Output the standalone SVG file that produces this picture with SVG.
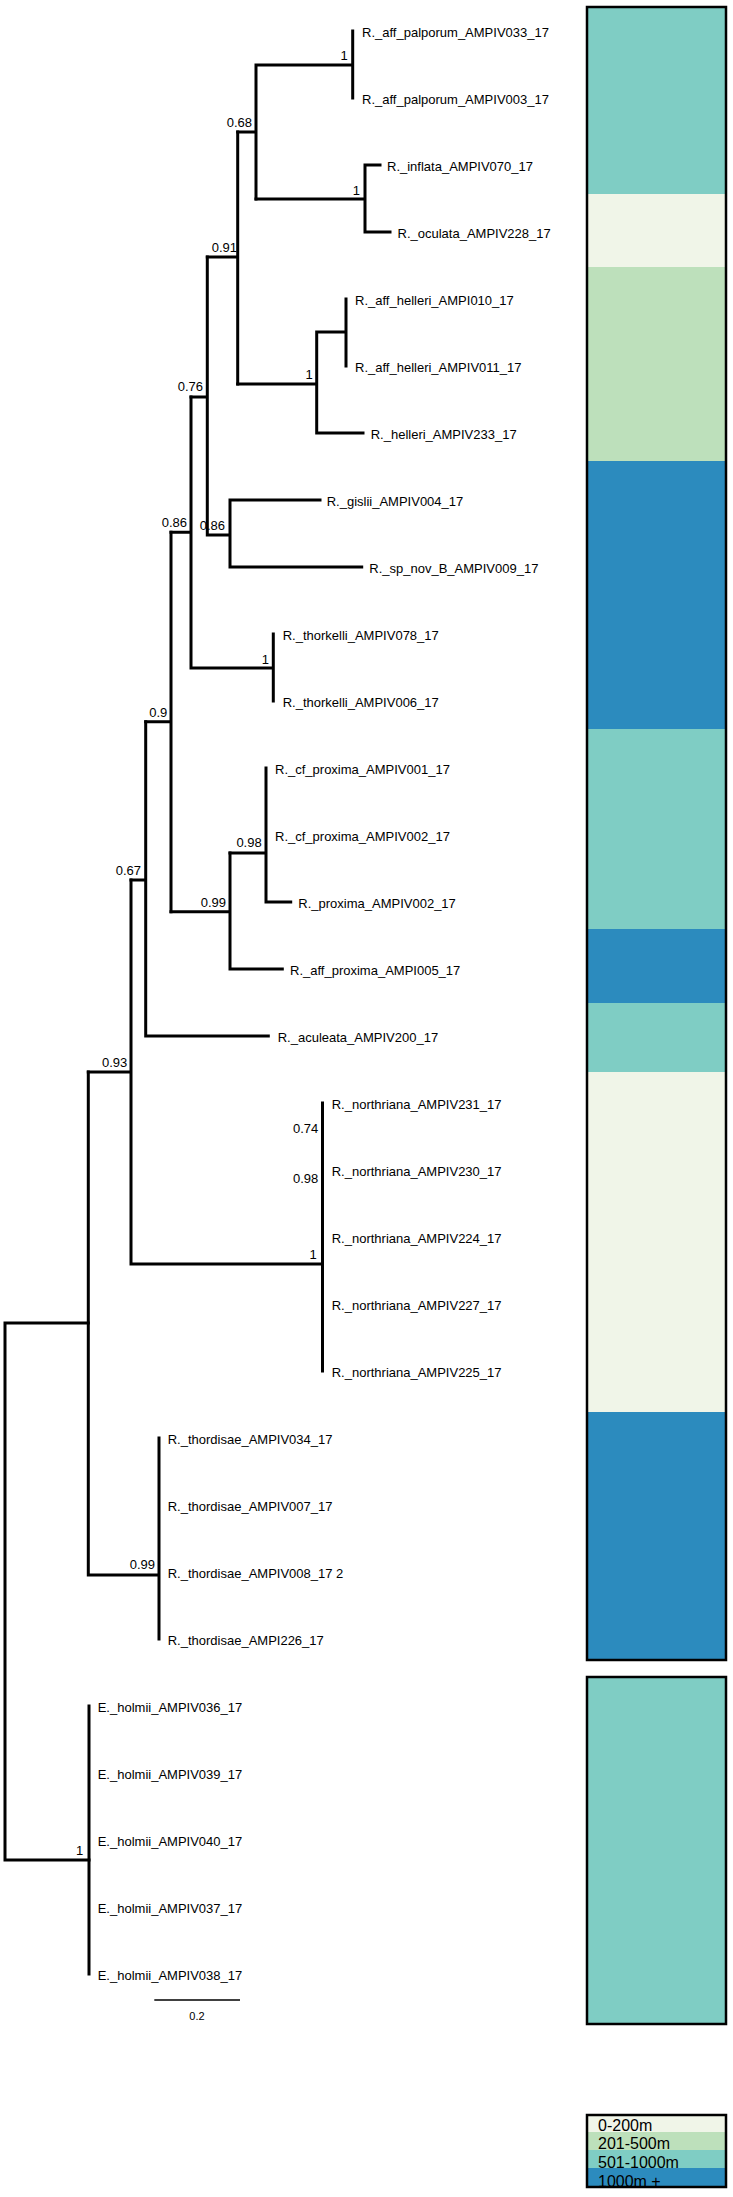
<svg xmlns="http://www.w3.org/2000/svg" width="733" height="2197" viewBox="0 0 733 2197">
<style>
.br{fill:none;stroke:#000;stroke-width:3;stroke-linecap:square}
.tx{font-family:"Liberation Sans",Arial,sans-serif;font-size:13px;fill:#000}
.sp{font-family:"Liberation Sans",Arial,sans-serif;font-size:13px;fill:#000;text-anchor:end}
.lg{font-family:"Liberation Sans",Arial,sans-serif;font-size:16px;fill:#000}
.c1{fill:#f0f5e8}.c2{fill:#bde0bb}.c3{fill:#7fcdc4}.c4{fill:#2c8bbe}
.box{fill:none;stroke:#000;stroke-width:2.5}
</style>
<rect width="733" height="2197" fill="#fff"/>
<g id="connectors">
<path class="br" d="M5 1323V1860M5 1323H88.3M5 1860H89"/>
<path class="br" d="M89 1706V1974"/>
<path class="br" d="M88.3 1072V1575M88.3 1575H159M159 1438V1639"/>
<path class="br" d="M88.3 1072H131M131 880V1264M131 1264H322.5M322.5 1103V1371"/>
<path class="br" d="M131 880H145.7M145.7 721.7V1036M145.7 1036H268.3"/>
<path class="br" d="M145.7 721.7H171M171 532.3V911.7"/>
<path class="br" d="M171 911.7H230M230 853V969M230 969H282.3"/>
<path class="br" d="M230 853H266M266 768V902M266 902H290.7"/>
<path class="br" d="M171 532.3H191M191 397V668M191 668H273.3M273.3 634V701"/>
<path class="br" d="M191 397H207.3M207.3 257V535M207.3 535H230M230 500V567M230 500H320M230 567H361.7"/>
<path class="br" d="M207.3 257H237.7M237.7 132V384"/>
<path class="br" d="M237.7 384H316.7M316.7 332V433M316.7 433H363M316.7 332H346M346 299V366"/>
<path class="br" d="M237.7 132H256M256 65V199M256 65H352.7M352.7 31V98"/>
<path class="br" d="M256 199H365M365 165V232M365 165H380M365 232H390"/>
</g>
<g id="tips">
<g id="t0"><text class="tx" x="362" y="36.5">R._aff_palporum_AMPIV033_17</text></g>
<g id="t1"><text class="tx" x="362" y="103.5">R._aff_palporum_AMPIV003_17</text></g>
<g id="t2"><text class="tx" x="387" y="170.5">R._inflata_AMPIV070_17</text></g>
<g id="t3"><text class="tx" x="397.5" y="237.5">R._oculata_AMPIV228_17</text></g>
<g id="t4"><text class="tx" x="355" y="304.5">R._aff_helleri_AMPI010_17</text></g>
<g id="t5"><text class="tx" x="355" y="371.5">R._aff_helleri_AMPIV011_17</text></g>
<g id="t6"><text class="tx" x="370.7" y="438.5">R._helleri_AMPIV233_17</text></g>
<g id="t7"><text class="tx" x="326.7" y="505.5">R._gislii_AMPIV004_17</text></g>
<g id="t8"><text class="tx" x="369.3" y="572.5">R._sp_nov_B_AMPIV009_17</text></g>
<g id="t9"><text class="tx" x="282.7" y="639.5">R._thorkelli_AMPIV078_17</text></g>
<g id="t10"><text class="tx" x="282.7" y="706.5">R._thorkelli_AMPIV006_17</text></g>
<g id="t11"><text class="tx" x="275" y="773.5">R._cf_proxima_AMPIV001_17</text></g>
<g id="t12"><text class="tx" x="275" y="840.5">R._cf_proxima_AMPIV002_17</text></g>
<g id="t13"><text class="tx" x="298.3" y="907.5">R._proxima_AMPIV002_17</text></g>
<g id="t14"><text class="tx" x="290" y="974.5">R._aff_proxima_AMPI005_17</text></g>
<g id="t15"><text class="tx" x="277.7" y="1041.5">R._aculeata_AMPIV200_17</text></g>
<g id="t16"><text class="tx" x="331.7" y="1108.5">R._northriana_AMPIV231_17</text></g>
<g id="t17"><text class="tx" x="331.7" y="1175.5">R._northriana_AMPIV230_17</text></g>
<g id="t18"><text class="tx" x="331.7" y="1242.5">R._northriana_AMPIV224_17</text></g>
<g id="t19"><text class="tx" x="331.7" y="1309.5">R._northriana_AMPIV227_17</text></g>
<g id="t20"><text class="tx" x="331.7" y="1376.5">R._northriana_AMPIV225_17</text></g>
<g id="t21"><text class="tx" x="167.7" y="1443.5">R._thordisae_AMPIV034_17</text></g>
<g id="t22"><text class="tx" x="167.7" y="1510.5">R._thordisae_AMPIV007_17</text></g>
<g id="t23"><text class="tx" x="167.7" y="1577.5">R._thordisae_AMPIV008_17 2</text></g>
<g id="t24"><text class="tx" x="167.7" y="1644.5">R._thordisae_AMPI226_17</text></g>
<g id="t25"><text class="tx" x="97.7" y="1711.5">E._holmii_AMPIV036_17</text></g>
<g id="t26"><text class="tx" x="97.7" y="1778.5">E._holmii_AMPIV039_17</text></g>
<g id="t27"><text class="tx" x="97.7" y="1845.5">E._holmii_AMPIV040_17</text></g>
<g id="t28"><text class="tx" x="97.7" y="1912.5">E._holmii_AMPIV037_17</text></g>
<g id="t29"><text class="tx" x="97.7" y="1979.5">E._holmii_AMPIV038_17</text></g>
</g>
<g id="supports">
<g id="n1"><text class="sp" x="347.7" y="60">1</text></g>
<g id="n2"><text class="sp" x="252" y="127">0.68</text></g>
<g id="n3"><text class="sp" x="360" y="195">1</text></g>
<g id="n4"><text class="sp" x="237" y="252">0.91</text></g>
<g id="n5"><text class="sp" x="312.7" y="378.7">1</text></g>
<g id="n6"><text class="sp" x="203" y="391">0.76</text></g>
<g id="n7"><text class="sp" x="187" y="527">0.86</text></g>
<g id="n8"><text class="sp" x="225" y="530">0.86</text></g>
<g id="n9"><text class="sp" x="269" y="664">1</text></g>
<g id="n10"><text class="sp" x="167.3" y="717.3">0.9</text></g>
<g id="n11"><text class="sp" x="261.7" y="847.3">0.98</text></g>
<g id="n12"><text class="sp" x="141" y="875">0.67</text></g>
<g id="n13"><text class="sp" x="226" y="906.7">0.99</text></g>
<g id="n14"><text class="sp" x="127.3" y="1067">0.93</text></g>
<g id="n15"><text class="sp" x="318.3" y="1133.3">0.74</text></g>
<g id="n16"><text class="sp" x="318.3" y="1183.3">0.98</text></g>
<g id="n17"><text class="sp" x="316.7" y="1259.3">1</text></g>
<g id="n18"><text class="sp" x="155" y="1569.3">0.99</text></g>
<g id="n19"><text class="sp" x="83.3" y="1855">1</text></g>
</g>
<g id="scalebar">
<line x1="154.3" y1="2000" x2="240" y2="2000" stroke="#000" stroke-width="1.3"/>
<text x="197" y="2020" text-anchor="middle" font-family="Liberation Sans, Arial, sans-serif" font-size="11">0.2</text>
</g>
<g id="depthbar">
<rect class="c3" x="587" y="7" width="139" height="187"/>
<rect class="c1" x="587" y="194" width="139" height="73"/>
<rect class="c2" x="587" y="267" width="139" height="194"/>
<rect class="c4" x="587" y="461" width="139" height="268"/>
<rect class="c3" x="587" y="729" width="139" height="200"/>
<rect class="c4" x="587" y="929" width="139" height="74"/>
<rect class="c3" x="587" y="1003" width="139" height="69"/>
<rect class="c1" x="587" y="1072" width="139" height="340"/>
<rect class="c4" x="587" y="1412" width="139" height="248"/>
<rect class="box" x="587" y="7" width="139" height="1653"/>
</g>
<g id="outgroupbar">
<rect class="c3" x="587" y="1677" width="139" height="347"/>
<rect class="box" x="587" y="1677" width="139" height="347"/>
</g>
<g id="legend">
<rect class="c1" x="587" y="2115" width="139" height="17"/>
<rect class="c2" x="587" y="2132" width="139" height="18"/>
<rect class="c3" x="587" y="2150" width="139" height="18"/>
<rect class="c4" x="587" y="2168" width="139" height="19"/>
<text class="lg" x="598" y="2131">0-200m</text>
<text class="lg" x="598" y="2149">201-500m</text>
<text class="lg" x="598" y="2167.5">501-1000m</text>
<text class="lg" x="598" y="2187">1000m +</text>
<rect class="box" x="587" y="2115" width="139" height="72"/>
</g>
</svg>
